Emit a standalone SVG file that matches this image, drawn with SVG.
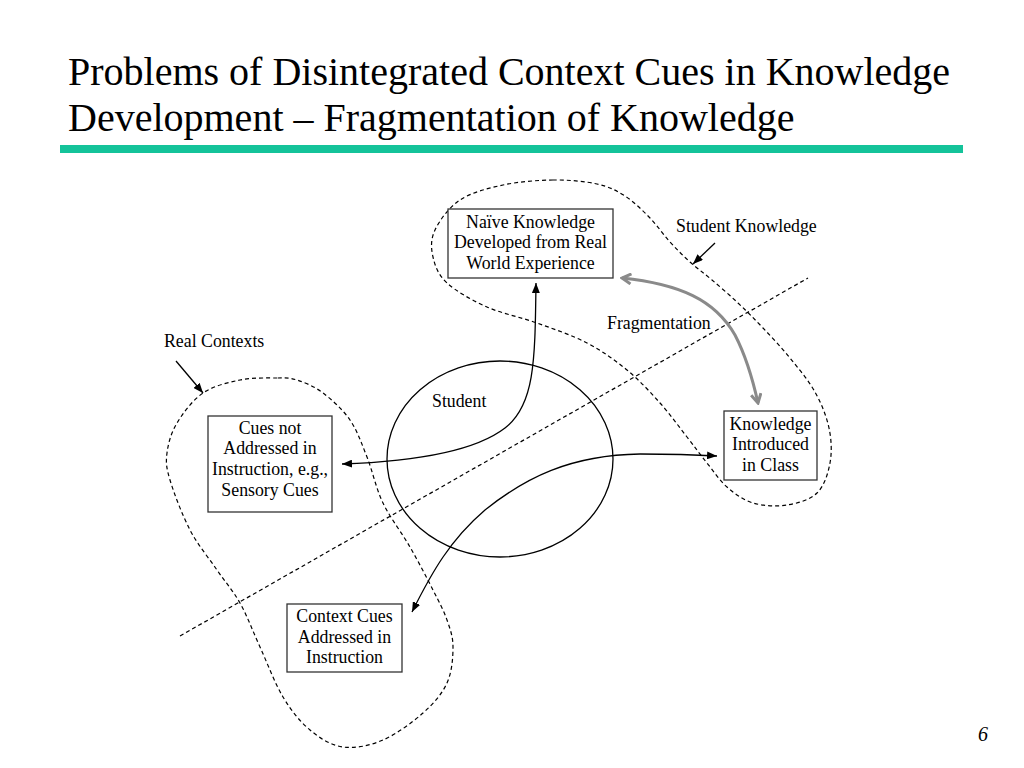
<svg xmlns="http://www.w3.org/2000/svg" width="1024" height="768" viewBox="0 0 1024 768" font-family="'Liberation Serif', 'Times New Roman', Times, serif">
<defs>
<marker id="ah" viewBox="0 0 10 8" refX="10" refY="4" markerWidth="10" markerHeight="8" markerUnits="userSpaceOnUse" orient="auto-start-reverse">
<path d="M0,0 L10,4 L0,8 Z" fill="#000"/>
</marker>
<marker id="gh" viewBox="0 0 12 12" refX="10" refY="6" markerWidth="12" markerHeight="12" markerUnits="userSpaceOnUse" orient="auto-start-reverse">
<path d="M1,1 L10,6 L1,11" fill="none" stroke="#8a8a8a" stroke-width="3" stroke-linejoin="miter"/>
</marker>
</defs>
<style>
.title{font-size:40px}
.lbl{font-size:17.8px}
.box{fill:#fff;stroke:#333;stroke-width:1.3}
.dash{fill:none;stroke:#000;stroke-width:1.2;stroke-dasharray:4 3}
.conn{fill:none;stroke:#000;stroke-width:1.3}
</style>
<rect width="1024" height="768" fill="#fff"/>
<g font-family="Liberation Serif, serif" fill="#000">
<text class="title" x="68" y="85">Problems of Disintegrated Context Cues in Knowledge</text>
<text class="title" x="68" y="131">Development – Fragmentation of Knowledge</text>
</g>
<rect x="60" y="145" width="903" height="8" fill="#14c39a"/>

<g id="regions">
<path id="real-contexts-region" class="dash" d="M277,378 C267.5,378 252.3,377.5 240,380 S213.5,385.8 203,393 S183,413 177,423 S168.2,443.5 167,453 S166.2,467.2 170,480 S182.2,515 190,530 S208.7,557.8 217,570 S232.8,590.2 240,603 S252.8,631.3 260,647 S274.7,683.2 283,697 S300,721.7 310,730 S330.8,745.3 343,747 S369.7,745.7 383,740 S412.3,722.5 423,713 S442,694 447,683 S453,657.5 453,647 S450.3,629.5 447,620 S439.2,602.2 433,590 S418.3,561.5 410,547 S390.2,518 383,503 S372.5,470.8 367,457 S357.3,430.7 350,420 S331.8,399.7 323,393 S304.7,382.5 297,380 S286.5,378 277,378 Z"/>
<path id="student-knowledge-region" class="dash" d="M553,180 C537.3,180.2 518.5,181.7 503,185 S471.3,192.5 460,200 S439.5,220.5 435,230 S431,248.2 433,257 S438,274.7 447,283 S472,300.3 487,307 S520.3,317 537,323 S572,335.2 587,343 S614.8,360 627,370 S650,391.8 660,403 S679.2,427 687,437 S700.3,454.7 707,463 S719.3,480.3 727,487 S743,500 753,503 S776.3,506.7 787,505 S809.8,500 817,493 S828,473.8 830,463 S831.5,439.8 829,428 S821.5,403.7 815,392 S798.7,368.7 790,358 S771.7,337.2 763,328 S746.5,311 738,303 S720,286.8 712,280 S697,268.3 690,262 S676.7,249.3 670,242 S657.5,225.7 650,218 S633.8,201.7 625,196 S609,186.7 597,184 S568.7,179.8 553,180 Z"/>
<line id="divider" class="dash" x1="180" y1="636" x2="808" y2="278"/>
</g>

<g id="student" font-family="Liberation Serif, serif">
<ellipse cx="500" cy="459" rx="113" ry="98" fill="none" stroke="#000" stroke-width="1.3"/>
<text class="lbl" x="432" y="407">Student</text>
</g>

<g id="naive-knowledge" font-family="Liberation Serif, serif" text-anchor="middle">
<rect class="box" x="448" y="209" width="165" height="69"/>
<text class="lbl" x="530.5" y="228">Naïve Knowledge</text>
<text class="lbl" x="530.5" y="248">Developed from Real</text>
<text class="lbl" x="530.5" y="269">World Experience</text>
</g>

<g id="knowledge-class" font-family="Liberation Serif, serif" text-anchor="middle">
<rect class="box" x="724" y="411" width="93" height="69"/>
<text class="lbl" x="770.5" y="430">Knowledge</text>
<text class="lbl" x="770.5" y="450">Introduced</text>
<text class="lbl" x="770.5" y="471">in Class</text>
</g>

<g id="cues-not-addressed" font-family="Liberation Serif, serif" text-anchor="middle">
<rect class="box" x="208" y="416" width="124" height="96"/>
<text class="lbl" x="270" y="434">Cues not</text>
<text class="lbl" x="270" y="454">Addressed in</text>
<text class="lbl" x="270" y="475">Instruction, e.g.,</text>
<text class="lbl" x="270" y="496">Sensory Cues</text>
</g>

<g id="context-cues" font-family="Liberation Serif, serif" text-anchor="middle">
<rect class="box" x="287" y="604" width="115" height="68"/>
<text class="lbl" x="344.5" y="622">Context Cues</text>
<text class="lbl" x="344.5" y="643">Addressed in</text>
<text class="lbl" x="344.5" y="663">Instruction</text>
</g>

<g id="label-real-contexts" font-family="Liberation Serif, serif">
<text class="lbl" x="164" y="347">Real Contexts</text>
</g>
<g id="label-student-knowledge" font-family="Liberation Serif, serif">
<text class="lbl" x="676" y="232">Student Knowledge</text>
</g>
<g id="label-fragmentation" font-family="Liberation Serif, serif">
<text class="lbl" x="607" y="329">Fragmentation</text>
</g>

<g id="connectors">
<line class="conn" x1="176" y1="361" x2="203" y2="393" marker-end="url(#ah)"/>
<line class="conn" x1="715" y1="243" x2="693" y2="264" marker-end="url(#ah)"/>
<path class="conn" d="M342,464 C400,462 470,455 505,428 C535,405 535,360 536,283" marker-start="url(#ah)" marker-end="url(#ah)"/>
<path class="conn" d="M412,612 C432,572 450,540 485,510 C525,478 570,455 640,454 C670,454 700,455 717,456" marker-start="url(#ah)" marker-end="url(#ah)"/>
<path d="M622,278 C680,284 715,300 735,335 C748,360 754,385 758,403" fill="none" stroke="#8a8a8a" stroke-width="3" marker-start="url(#gh)" marker-end="url(#gh)"/>
</g>

<text x="978" y="741" font-size="20" font-style="italic" font-family="Liberation Serif, serif">6</text>
</svg>
